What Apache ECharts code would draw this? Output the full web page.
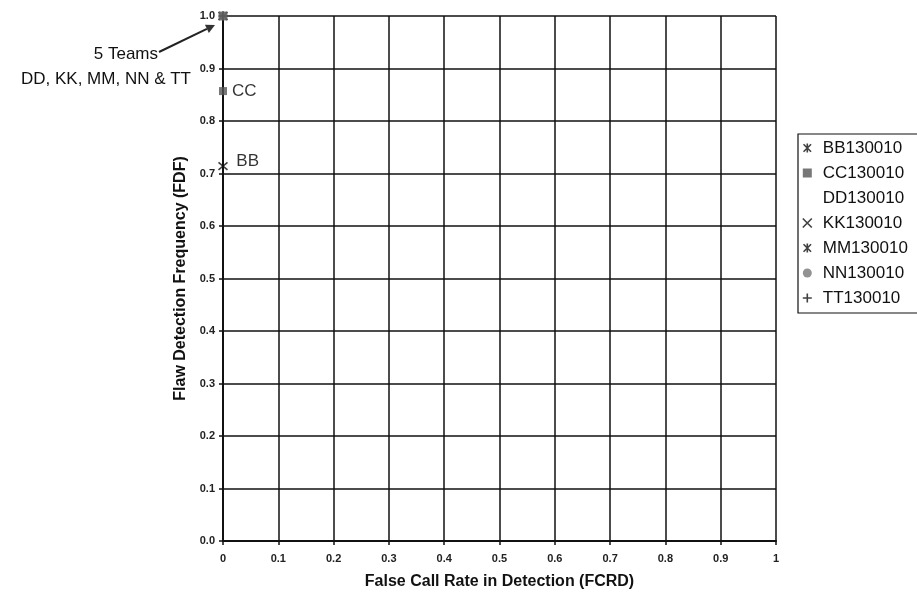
<!DOCTYPE html>
<html>
<head>
<meta charset="utf-8">
<script src="https://cdn.jsdelivr.net/npm/echarts@6/dist/echarts.min.js"></script>
<style>
html, body { margin: 0; padding: 0; background: #fff; }
#chart { width: 917px; height: 598px; }
</style>
</head>
<body>
<div id="chart"></div>
<script>
// Team results: false call rate (x) against flaw detection frequency (y)
const teams = ['BB130010', 'CC130010', 'DD130010', 'KK130010', 'MM130010', 'NN130010', 'TT130010'];
const fcrd = [0, 0, 0, 0, 0, 0, 0];
const fdf = [0.714, 0.857, 1.0, 1.0, 1.0, 1.0, 1.0];
const pointTags = ['BB', 'CC', '', '', '', '', ''];
const xTickLabels = ['0', '0.1', '0.2', '0.3', '0.4', '0.5', '0.6', '0.7', '0.8', '0.9', '1'];
const yTickLabels = ['0.0', '0.1', '0.2', '0.3', '0.4', '0.5', '0.6', '0.7', '0.8', '0.9', '1.0'];
const groupNote = ['5 Teams', 'DD, KK, MM, NN & TT'];

const FONT = '"Liberation Sans", Arial, sans-serif';

// marker shapes
const P_X = 'path://M0,0L10,10M0,10L10,0';
const P_STAR = 'path://M0,0L10,10M0,10L10,0M5,-1L5,11';
const P_PLUS = 'path://M5,0L5,10M0,5L10,5';

// DD has a plotted square but no icon in the key
const markerStyle = [
  { symbol: P_STAR, size: 9, color: '#111', stroke: true, key: true },
  { symbol: 'rect', size: 8, color: '#555', stroke: false, key: true },
  { symbol: 'rect', size: 9, color: '#666', stroke: false, key: false },
  { symbol: P_X, size: 8, color: '#111', stroke: true, key: true },
  { symbol: P_STAR, size: 9, color: '#111', stroke: true, key: true },
  { symbol: 'circle', size: 8, color: '#777', stroke: false, key: true },
  { symbol: P_PLUS, size: 9, color: '#111', stroke: true, key: true }
];

const chart = echarts.init(document.getElementById('chart'));

const series = teams.map((name, i) => {
  const m = markerStyle[i];
  return {
    name: name,
    type: 'scatter',
    clip: false,
    z: m.key ? 2 : 3,
    symbol: m.symbol,
    symbolSize: m.size,
    itemStyle: m.stroke
      ? { color: m.color, borderColor: m.color, borderWidth: 1.6 }
      : { color: m.color, borderWidth: 0 },
    label: {
      show: pointTags[i] !== '',
      position: 'right',
      distance: i === 0 ? 8 : 5,
      offset: i === 0 ? [0, -5] : [0, 0],
      formatter: () => pointTags[i],
      color: '#000',
      fontFamily: FONT,
      fontSize: 17
    },
    data: [[fcrd[i], fdf[i]]]
  };
});

const legendData = teams.map((name, i) => {
  const m = markerStyle[i];
  if (!m.key) {
    return { name: name, icon: 'rect', itemStyle: { opacity: 0 } };
  }
  return {
    name: name,
    icon: m.symbol,
    itemStyle: m.stroke
      ? { color: m.color, borderColor: m.color, borderWidth: 1.6 }
      : { color: m.color, borderWidth: 0 }
  };
});

chart.setOption({
  animation: false,
  backgroundColor: '#fff',
  grid: { left: 223, top: 16, width: 553, height: 525 },
  legend: {
    orient: 'vertical',
    left: 798,
    top: 134,
    padding: [5, 40, 6, 4],
    itemWidth: 9,
    itemHeight: 9,
    itemGap: 7,
    borderColor: '#111',
    borderWidth: 1.2,
    selectedMode: false,
    textStyle: {
      color: '#111',
      fontFamily: FONT,
      fontSize: 17,
      lineHeight: 18,
      padding: [0, 0, 0, 6]
    },
    data: legendData
  },
  xAxis: {
    type: 'value',
    min: 0,
    max: 1,
    interval: 0.1,
    name: 'False Call Rate in Detection (FCRD)',
    nameLocation: 'middle',
    nameGap: 33,
    nameTextStyle: { color: '#111', fontFamily: FONT, fontSize: 16, fontWeight: 'bold' },
    axisLine: { show: true, lineStyle: { color: '#111', width: 2 } },
    axisTick: { show: true, length: 4, lineStyle: { color: '#111', width: 1.5 } },
    axisLabel: {
      color: '#222',
      fontFamily: FONT,
      fontSize: 11,
      fontWeight: 'bold',
      margin: 12,
      formatter: (v) => xTickLabels[Math.round(v * 10)]
    },
    splitLine: { show: true, lineStyle: { color: '#111', width: 1.5 } }
  },
  yAxis: {
    type: 'value',
    min: 0,
    max: 1,
    interval: 0.1,
    name: 'Flaw Detection Frequency (FDF)',
    nameLocation: 'middle',
    nameGap: 29,
    nameTextStyle: { color: '#111', fontFamily: FONT, fontSize: 16, fontWeight: 'bold' },
    axisLine: { show: true, lineStyle: { color: '#111', width: 2 } },
    axisTick: { show: true, length: 4, lineStyle: { color: '#111', width: 1.5 } },
    axisLabel: {
      color: '#222',
      fontFamily: FONT,
      fontSize: 11,
      fontWeight: 'bold',
      margin: 8,
      formatter: (v) => yTickLabels[Math.round(v * 10)]
    },
    splitLine: { show: true, lineStyle: { color: '#111', width: 1.5 } }
  },
  series: series
});

// Callout for the five teams sharing the top-left point
const p = chart.convertToPixel({ gridIndex: 0 }, [fcrd[2], fdf[2]]);
const tail = [p[0] - 64, p[1] + 36];
const head = [p[0] - 8, p[1] + 9];
const ang = Math.atan2(head[1] - tail[1], head[0] - tail[0]);
const ah = 9, aw = 4.5;
const base = [head[0] - ah * Math.cos(ang), head[1] - ah * Math.sin(ang)];
const nx = -Math.sin(ang), ny = Math.cos(ang);

chart.setOption({
  graphic: [
    {
      type: 'line',
      shape: { x1: tail[0], y1: tail[1], x2: base[0], y2: base[1] },
      style: { stroke: '#222', lineWidth: 2 },
      silent: true
    },
    {
      type: 'polygon',
      shape: {
        points: [
          head,
          [base[0] + nx * aw, base[1] + ny * aw],
          [base[0] - nx * aw, base[1] - ny * aw]
        ]
      },
      style: { fill: '#333' },
      silent: true
    },
    {
      type: 'text',
      x: p[0] - 65,
      y: p[1] + 38,
      style: {
        text: groupNote[0],
        fill: '#111',
        font: '17px ' + FONT,
        align: 'right',
        verticalAlign: 'middle'
      },
      silent: true
    },
    {
      type: 'text',
      x: p[0] - 32,
      y: p[1] + 63,
      style: {
        text: groupNote[1],
        fill: '#111',
        font: '17px ' + FONT,
        align: 'right',
        verticalAlign: 'middle'
      },
      silent: true
    }
  ]
});
</script>
</body>
</html>
